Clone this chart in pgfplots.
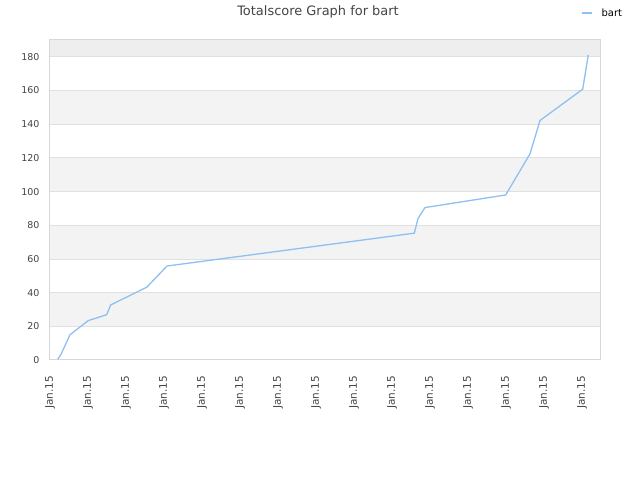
\documentclass[border=0pt]{standalone}
\usepackage{pgfplots}
\pgfplotsset{compat=1.18}
\usepackage{fontspec}
\setmainfont{DejaVu Sans}
\definecolor{linec}{HTML}{8EC0F3}
\definecolor{bandc}{HTML}{F3F3F3}
\definecolor{topc}{HTML}{EEEEEE}
\definecolor{gridc}{HTML}{E0E0E0}
\definecolor{axc}{HTML}{D8D8D8}
\definecolor{txt}{HTML}{444444}
\begin{document}
\begin{tikzpicture}
\fill[white] (0bp,0bp) rectangle (640bp,480bp);
\node[text=txt,font=\fontsize{13}{15}\selectfont] at (318bp,468bp) {Totalscore Graph for bart};
\begin{axis}[
  at={(50bp,120bp)}, anchor=south west,
  scale only axis, width=550bp, height=320bp,
  xmin=0, xmax=550, ymin=0, ymax=190,
  xtick={0,38,76,114,152,190,228,266,304,342,380,418,456,494,532},
  xticklabels={Jan.15,Jan.15,Jan.15,Jan.15,Jan.15,Jan.15,Jan.15,Jan.15,Jan.15,Jan.15,Jan.15,Jan.15,Jan.15,Jan.15,Jan.15},
  ytick={0,20,...,180},
  x tick label style={rotate=90, anchor=east, font=\fontsize{10.5}{12}\selectfont, text=txt, xshift=-2.5bp},
  y tick label style={font=\fontsize{9.5}{11}\selectfont, text=txt},
  /pgf/number format/assume math mode=true,
  major tick length=0pt,
  xticklabel shift=10bp, yticklabel shift=7bp,
  axis line style={axc, line width=1bp},
  legend style={at={(1.044,1.084)}, anchor=east, draw=none, fill=none, font=\fontsize{10}{12}\selectfont, text=black, inner sep=0pt},
  legend image code/.code={\draw[#1] (0bp,0bp) -- (10bp,0bp); \path (17bp,0bp);},
]
\fill[bandc] (axis cs:0,20) rectangle (axis cs:550,40);
\fill[bandc] (axis cs:0,60) rectangle (axis cs:550,80);
\fill[bandc] (axis cs:0,100) rectangle (axis cs:550,120);
\fill[bandc] (axis cs:0,140) rectangle (axis cs:550,160);
\fill[topc] (axis cs:0,180) rectangle (axis cs:550,190);
\foreach \v in {20,40,...,180} {
  \edef\tmp{\noexpand\draw[gridc, line width=0.8bp] (axis cs:0,\v) -- (axis cs:550,\v);}\tmp
}
\addplot[linec, line width=1.3bp] coordinates {
(7.7,0.5) (10.7,3) (20,15) (38.3,23.4) (56.7,26.9) (60.7,32.7) (96.7,43.2) (117,55.8)
(364.3,75.3) (368,84) (375,90.5) (455.7,98) (480,122.4) (490,142.2) (532.7,160.8) (538.3,181.2)
};
\addlegendentry{bart}
\end{axis}
\useasboundingbox (0bp,0bp) rectangle (640bp,480bp);
\end{tikzpicture}
\end{document}
